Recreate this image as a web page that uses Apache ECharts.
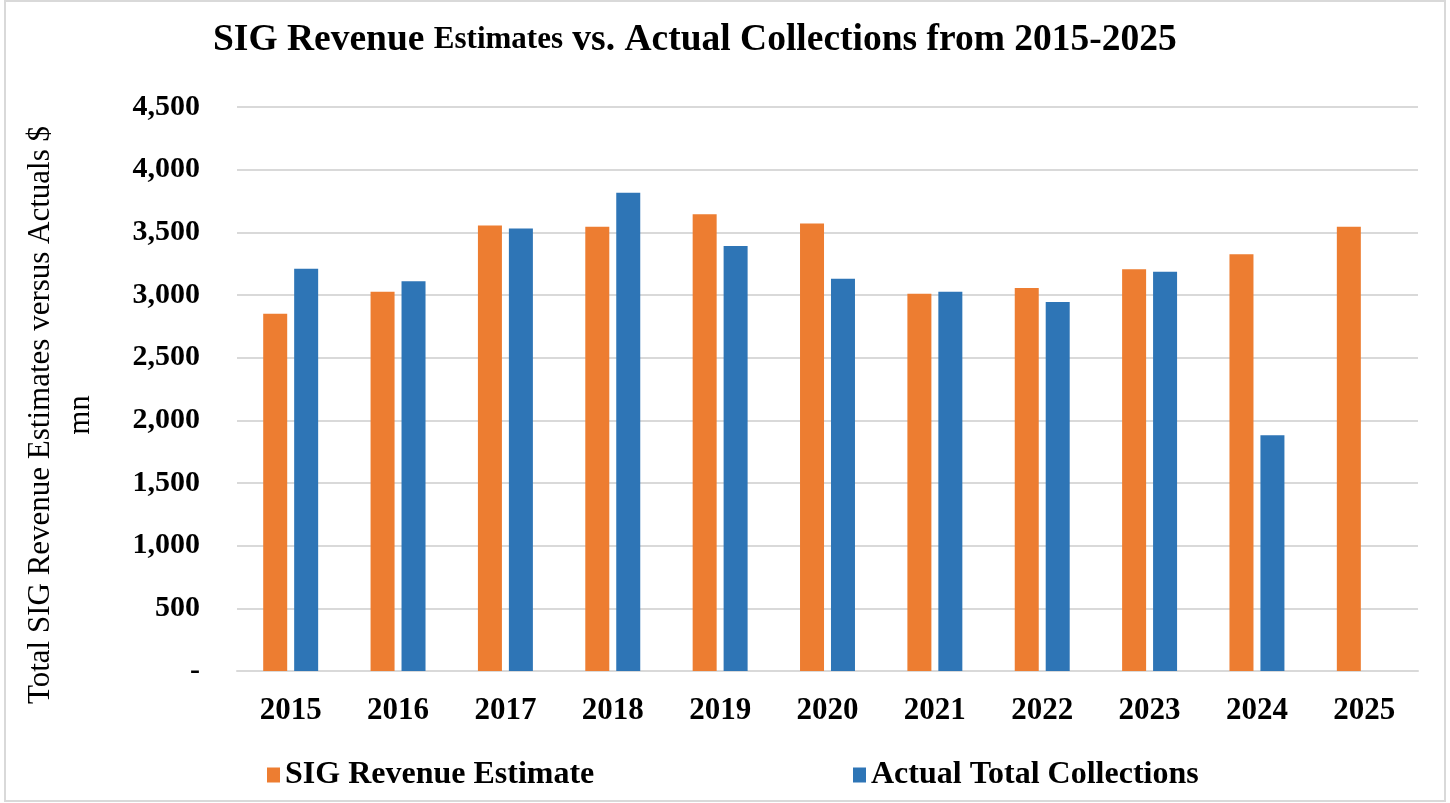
<!DOCTYPE html>
<html>
<head>
<meta charset="utf-8">
<script src="https://cdn.jsdelivr.net/npm/echarts@6/dist/echarts.min.js"></script>
<style>
html,body{margin:0;padding:0;background:#fff;}
#chart{width:1450px;height:803px;}
</style>
</head>
<body>
<div id="chart"></div>
<script>
const categories = ['2015','2016','2017','2018','2019','2020','2021','2022','2023','2024','2025'];
const estimateValues = [2850, 3025, 3555, 3545, 3645, 3570, 3010, 3055, 3205, 3325, 3545];
const actualValues = [3210, 3110, 3530, 3815, 3390, 3130, 3025, 2945, 3185, 1880, null];
const yTickLabels = ['-', '500', '1,000', '1,500', '2,000', '2,500', '3,000', '3,500', '4,000', '4,500'];
const seriesNames = ['SIG Revenue Estimate', 'Actual Total Collections'];
const yAxisTitle = 'Total SIG Revenue Estimates versus Actuals $\nmn';

const serif = '"Liberation Serif", "Times New Roman", serif';
const chart = echarts.init(document.getElementById('chart'));
chart.setOption({
  backgroundColor: '#fff',
  animation: false,
  title: {
    text: '{a|SIG Revenue }{b|Estimates}{a| vs. Actual Collections from 2015-2025}',
    left: 208,
    top: 16,
    textStyle: {
      rich: {
        a: {fontFamily: serif, fontWeight: 'bold', fontSize: 37.5, color: '#000'},
        b: {fontFamily: serif, fontWeight: 'bold', fontSize: 31, color: '#000'}
      }
    }
  },
  legend: [
    {
      data: [seriesNames[0]], left: 262, top: 754, icon: 'rect', itemWidth: 13, itemHeight: 15,
      textStyle: {fontFamily: serif, fontWeight: 'bold', fontSize: 32, color: '#000'}
    },
    {
      data: [seriesNames[1]], left: 848, top: 754, icon: 'rect', itemWidth: 13, itemHeight: 15,
      textStyle: {fontFamily: serif, fontWeight: 'bold', fontSize: 32, color: '#000'}
    }
  ],
  grid: {left: 237, right: 32, top: 107, bottom: 132},
  xAxis: {
    type: 'category',
    data: categories,
    axisLine: {lineStyle: {color: '#d9d9d9', width: 2}},
    axisTick: {show: false},
    axisLabel: {fontFamily: serif, fontWeight: 'bold', fontSize: 31, color: '#000', margin: 24}
  },
  yAxis: {
    type: 'value',
    min: 0, max: 4500, interval: 500,
    axisLine: {show: false},
    axisTick: {show: false},
    splitLine: {lineStyle: {color: '#d9d9d9', width: 2}},
    axisLabel: {
      fontFamily: serif, fontWeight: 'bold', fontSize: 30, color: '#000', margin: 37,
      formatter: v => yTickLabels[Math.round(v / 500)]
    }
  },
  graphic: [
    {
      type: 'rect', silent: true, z: -10,
      shape: {x: 5, y: 1, width: 1440, height: 800},
      style: {fill: 'none', stroke: '#d9d9d9', lineWidth: 2}
    },
    {
      type: 'text', x: 61, y: 415, rotation: Math.PI / 2,
      style: {
        text: yAxisTitle, align: 'center', verticalAlign: 'middle',
        fontFamily: serif, fontSize: 31, lineHeight: 40, fill: '#000'
      }
    }
  ],
  series: [
    {
      name: seriesNames[0], type: 'bar', data: estimateValues,
      barWidth: 24, barGap: '29%',
      itemStyle: {color: '#ED7D31'}
    },
    {
      name: seriesNames[1], type: 'bar', data: actualValues,
      barWidth: 24, barGap: '29%',
      itemStyle: {color: '#2E75B6'}
    }
  ]
});
</script>
</body>
</html>
